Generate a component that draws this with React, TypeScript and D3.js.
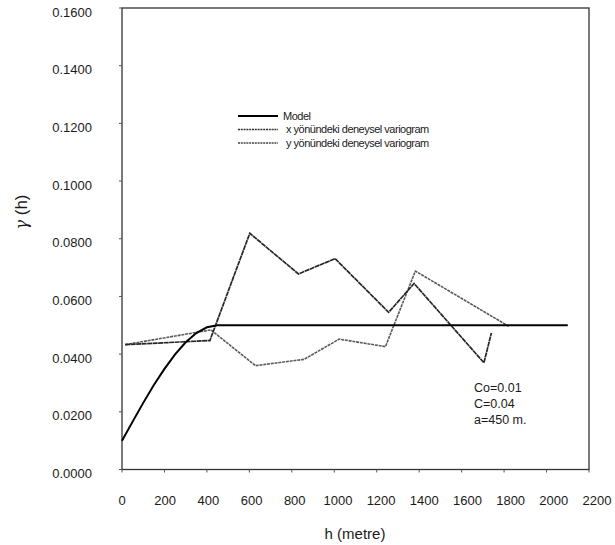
import React from "react";
import * as d3 from "d3";

// Spherical model (Co=0.01, C=0.04, a=450) sampled values
const modelH = [0, 50, 100, 150, 200, 250, 300, 350, 400, 450, 2100];
const modelG = [0.01, 0.0166, 0.0231, 0.0293, 0.0349, 0.0399, 0.0441, 0.0473, 0.0493, 0.05, 0.05];

// x yönündeki deneysel variogram
const xDirH = [15, 414, 602, 831, 1004, 1256, 1376, 1705, 1740];
const xDirG = [0.0433, 0.0447, 0.0819, 0.0678, 0.0731, 0.0545, 0.0645, 0.037, 0.0473];

// y yönündeki deneysel variogram
const yDirH = [15, 419, 629, 858, 1023, 1241, 1382, 1823];
const yDirG = [0.0433, 0.0484, 0.036, 0.0382, 0.0452, 0.0426, 0.0688, 0.0496];

const xTicks = [0, 200, 400, 600, 800, 1000, 1200, 1400, 1600, 1800, 2000, 2200];
const yTicks = [0, 0.02, 0.04, 0.06, 0.08, 0.1, 0.12, 0.14, 0.16];

const legendLabels = ["Model", "x yönündeki deneysel variogram", "y yönündeki deneysel variogram"];
const annotations = ["Co=0.01", "C=0.04", "a=450 m."];

export default function App() {
  const W = 615, H = 545;
  const left = 122, right = 589, top = 8, bottom = 469.5;
  const x = d3.scaleLinear().domain([0, 2200]).range([left, right]);
  const y = d3.scaleLinear().domain([0, 0.16]).range([bottom, top]);
  const line = d3.line<[number, number]>().x(d => x(d[0])).y(d => y(d[1]));
  const modelPts = modelH.map((h, i) => [h, modelG[i]] as [number, number]);
  const xPts = xDirH.map((h, i) => [h, xDirG[i]] as [number, number]);
  const yPts = yDirH.map((h, i) => [h, yDirG[i]] as [number, number]);
  const font = "Liberation Sans, Arial, sans-serif";
  const legStyles = [
    { stroke: "#000", w: 1.8, dash: "" },
    { stroke: "#333", w: 1.5, dash: "2 0.8" },
    { stroke: "#444", w: 1.5, dash: "2 0.8" },
  ];

  return (
    <svg width={W} height={H} style={{ position: "absolute", left: 0, top: 0, background: "#fff" }}
      fontFamily={font}>
      <rect x={0} y={0} width={W} height={H} fill="#fff" />
      {/* frame */}
      <rect x={left} y={top} width={right - left} height={bottom - top} fill="none" stroke="#333" strokeWidth={1.3} />
      {/* y ticks */}
      {yTicks.map(t => (
        <g key={"y" + t}>
          <line x1={left - 3} x2={left} y1={y(t)} y2={y(t)} stroke="#555" />
          <text x={92} y={y(t) + 4} dy="0.35em" textAnchor="end" fontSize={13} fill="#1a1a1a">
            {t.toFixed(4)}
          </text>
        </g>
      ))}
      {/* x ticks */}
      {xTicks.map(t => (
        <g key={"x" + t}>
          <line x1={x(t)} x2={x(t)} y1={bottom} y2={bottom + 3} stroke="#555" />
          <text x={x(t) + (t / 2200) * 8} y={505} textAnchor="middle" fontSize={13} fill="#1a1a1a">
            {t}
          </text>
        </g>
      ))}
      {/* axis titles */}
      <text transform={`translate(27,212) rotate(-90)`} textAnchor="middle" fontSize={17} fill="#1a1a1a">
        <tspan fontFamily="DejaVu Serif, serif" fontStyle="italic" fontSize={16}>γ</tspan> (h)
      </text>
      <text x={355} y={539} textAnchor="middle" fontSize={15} fill="#1a1a1a">h (metre)</text>

      {/* series */}
      <path d={line(yPts) || ""} fill="none" stroke="#5a5a5a" strokeWidth={1.6} strokeDasharray="3 0.8" />
      <path d={line(xPts) || ""} fill="none" stroke="#262626" strokeWidth={1.7} strokeDasharray="5 0.5" />
      <path d={line(modelPts) || ""} fill="none" stroke="#000" strokeWidth={2} />

      {/* legend */}
      {legendLabels.map((lab, i) => (
        <g key={lab}>
          <line x1={238} x2={278} y1={116 + i * 13.5} y2={116 + i * 13.5}
            stroke={legStyles[i].stroke} strokeWidth={legStyles[i].w} strokeDasharray={legStyles[i].dash} />
          <text x={i === 0 ? 283 : 286} y={116 + i * 13.5} dy="0.35em" fontSize={11} letterSpacing={-0.5} fill="#1a1a1a">
            {lab}
          </text>
        </g>
      ))}

      {/* annotations */}
      {annotations.map((a, i) => (
        <text key={a} x={474} y={392 + i * 16} fontSize={12.5} fill="#1a1a1a">{a}</text>
      ))}
    </svg>
  );
}
